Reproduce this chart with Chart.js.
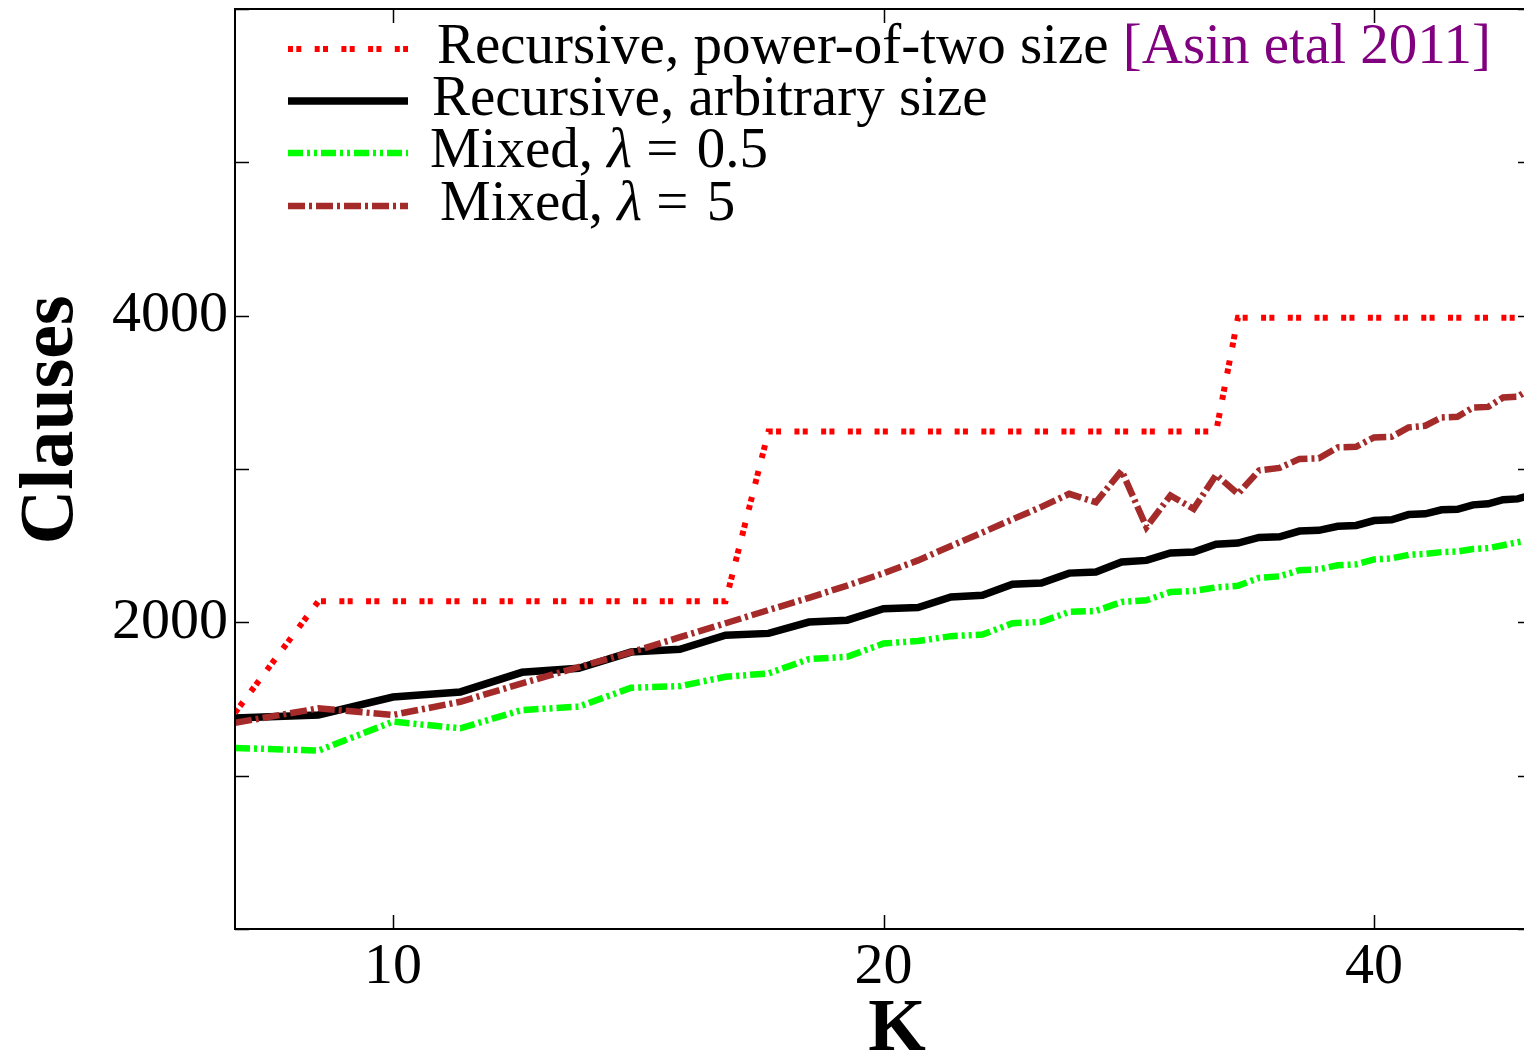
<!DOCTYPE html>
<html>
<head>
<meta charset="utf-8">
<title>Clauses vs K</title>
<script src="https://cdn.jsdelivr.net/npm/chart.js@4.4.1/dist/chart.umd.min.js"></script>
<style>
  html, body { margin: 0; padding: 0; background: #fff; overflow: hidden; }
  #wrap { width: 1560px; height: 1056px; }
</style>
</head>
<body>
<div id="wrap"><canvas id="clausesChart" width="1560" height="1056"></canvas></div>
<script>
const kValues = [8, 9, 10, 11, 12, 13, 14, 15, 16, 17, 18, 19, 20, 21, 22, 23, 24, 25, 26, 27, 28,
  29, 30, 31, 32, 33, 34, 35, 36, 37, 38, 39, 40, 41, 42, 43, 44, 45, 46, 47, 48, 49, 50];

const powerOfTwo = [1410,
  2137, 2137, 2137, 2137, 2137, 2137, 2137, 2137,
  3245, 3245, 3245, 3245, 3245, 3245, 3245, 3245, 3245, 3245, 3245, 3245, 3245, 3245, 3245, 3245,
  3987, 3987, 3987, 3987, 3987, 3987, 3987, 3987, 3987, 3987, 3987, 3987, 3987, 3987, 3987, 3987, 3987, 3987];

const arbitrarySize = [1376, 1396, 1513, 1546, 1674, 1700, 1806, 1824, 1916, 1928, 2002, 2014, 2089,
  2096, 2165, 2176, 2248, 2256, 2321, 2328, 2393, 2404, 2452, 2458, 2510, 2517, 2554, 2558, 2595,
  2600, 2626, 2632, 2664, 2669, 2703, 2708, 2734, 2737, 2766, 2773, 2800, 2805, 2832];

const mixedHalf = [1181, 1163, 1352, 1309, 1428, 1450, 1573, 1584, 1645, 1667, 1760, 1775, 1862,
  1878, 1910, 1920, 1994, 2003, 2068, 2074, 2133, 2144, 2198, 2204, 2228, 2238, 2290, 2300, 2340,
  2346, 2372, 2378, 2410, 2417, 2440, 2447, 2458, 2462, 2478, 2484, 2503, 2522, 2540];

const mixedFive = [1345, 1439, 1396, 1482, 1602, 1708, 1805, 1903, 1994, 2080, 2160, 2240, 2320,
  2404, 2498, 2586, 2672, 2753, 2838, 2783, 2989, 2621, 2827, 2740, 2962, 2838, 2990, 3007, 3066,
  3070, 3141, 3145, 3206, 3210, 3271, 3282, 3336, 3340, 3401, 3405, 3467, 3471, 3530];

const xTickValues = [10, 20, 40];
const yTickLabels = [2000, 4000];

const serif = '"Liberation Serif", "DejaVu Serif", serif';

const toPoints = ys => kValues.map((k, i) => ({ x: k, y: ys[i] }));

// spines, inward ticks, axis titles and the legend
const framePlugin = {
  id: 'frame',
  afterDraw(chart) {
    const ctx = chart.ctx;
    const area = chart.chartArea;
    const xs = chart.scales.x;
    const ys = chart.scales.y;
    const tick = 14;

    ctx.save();
    ctx.strokeStyle = '#000';
    ctx.lineWidth = 2;
    ctx.setLineDash([]);
    ctx.strokeRect(area.left, area.top, area.right - area.left, area.bottom - area.top);

    ctx.lineWidth = 1.5;
    ctx.beginPath();
    xs.ticks.forEach(t => {
      const px = Math.round(xs.getPixelForValue(t.value)) + 0.5;
      ctx.moveTo(px, area.bottom); ctx.lineTo(px, area.bottom - tick);
      ctx.moveTo(px, area.top); ctx.lineTo(px, area.top + tick);
    });
    ys.ticks.forEach(t => {
      const py = Math.round(ys.getPixelForValue(t.value)) + 0.5;
      ctx.moveTo(area.left, py); ctx.lineTo(area.left + tick, py);
      ctx.moveTo(area.right, py); ctx.lineTo(area.right - tick, py);
    });
    ctx.stroke();

    // axis titles
    ctx.fillStyle = '#000';
    ctx.font = 'bold 74px ' + serif;
    ctx.textAlign = 'center';
    ctx.textBaseline = 'alphabetic';
    ctx.fillText('K', 897, 1050);

    ctx.save();
    ctx.translate(72, 420);
    ctx.rotate(-Math.PI / 2);
    ctx.font = 'bold 76px ' + serif;
    ctx.fillText('Clauses', 0, 0);
    ctx.restore();

    // legend
    const rows = [
      { y: 49, x: 437, parts: [['Recursive, power-of-two size ', ''], ['[Asin etal 2011]', '', '#800080']] },
      { y: 101, x: 432, parts: [['Recursive, arbitrary size', '']] },
      { y: 153, x: 430, parts: [['Mixed, ', ''], ['λ', 'italic '], [' = ', ''], ['0.5', '']] },
      { y: 206, x: 440, parts: [['Mixed, ', ''], ['λ', 'italic '], [' = ', ''], ['5', '']] }
    ];
    rows.forEach((row, i) => {
      const ds = chart.data.datasets[i];
      ctx.save();
      ctx.strokeStyle = ds.borderColor;
      ctx.lineWidth = ds.borderWidth;
      ctx.lineCap = 'butt';
      ctx.setLineDash(ds.borderDash || []);
      ctx.beginPath();
      ctx.moveTo(288, row.y);
      ctx.lineTo(408, row.y);
      ctx.stroke();
      ctx.restore();

      let x = row.x;
      ctx.textAlign = 'left';
      ctx.textBaseline = 'alphabetic';
      row.parts.forEach(([text, style, color]) => {
        ctx.font = style + '57px ' + serif;
        ctx.fillStyle = color || '#000';
        ctx.fillText(text, x, row.y + 14);
        x += ctx.measureText(text).width + (text === ' = ' ? 4 : 0);
      });
    });
    ctx.restore();
  }
};

const ctx = document.getElementById('clausesChart').getContext('2d');
const clausesChart = new Chart(ctx, {
  type: 'line',
  data: {
    datasets: [{
      label: 'Recursive, power-of-two size [Asin etal 2011]',
      data: toPoints(powerOfTwo),
      borderColor: '#ff0000',
      borderWidth: 6,
      borderDash: [5, 3.3, 5, 13.4],
      order: 3
    }, {
      label: 'Recursive, arbitrary size',
      data: toPoints(arbitrarySize),
      borderColor: '#000000',
      borderWidth: 7.5,
      order: 2
    }, {
      label: 'Mixed, λ = 0.5',
      data: toPoints(mixedHalf),
      borderColor: '#00ff00',
      borderWidth: 6.5,
      borderDash: [15, 4, 3, 4, 3, 4],
      order: 1
    }, {
      label: 'Mixed, λ = 5',
      data: toPoints(mixedFive),
      borderColor: '#a52a2a',
      borderWidth: 6.5,
      borderDash: [17, 4, 3, 4],
      order: 0
    }]
  },
  options: {
    responsive: false,
    animation: false,
    events: [],
    elements: {
      point: { radius: 0 },
      line: { tension: 0, fill: false, borderCapStyle: 'butt', borderJoinStyle: 'miter' }
    },
    layout: { padding: { top: 9, right: 28, left: 0, bottom: 0 } },
    scales: {
      x: {
        type: 'logarithmic',
        min: 8,
        max: 50,
        afterBuildTicks: scale => { scale.ticks = xTickValues.map(v => ({ value: v })); },
        afterFit: scale => {
          scale.height = 127;
          scale.paddingLeft = 0;
          scale.paddingRight = 0;
        },
        grid: { display: false, drawTicks: false },
        border: { display: false },
        ticks: {
          autoSkip: false,
          maxRotation: 0,
          padding: 4,
          color: '#000',
          font: { family: serif, size: 58 },
          callback: v => String(v)
        }
      },
      y: {
        min: 0,
        max: 6000,
        afterFit: scale => {
          scale.width = 235;
          scale.paddingTop = 0;
          scale.paddingBottom = 0;
        },
        grid: { display: false, drawTicks: false },
        border: { display: false },
        ticks: {
          stepSize: 1000,
          padding: 7,
          color: '#000',
          font: { family: serif, size: 58 },
          callback: v => yTickLabels.includes(v) ? String(v) : ''
        }
      }
    },
    plugins: {
      legend: { display: false },
      tooltip: { enabled: false }
    }
  },
  plugins: [framePlugin]
});
</script>
</body>
</html>
